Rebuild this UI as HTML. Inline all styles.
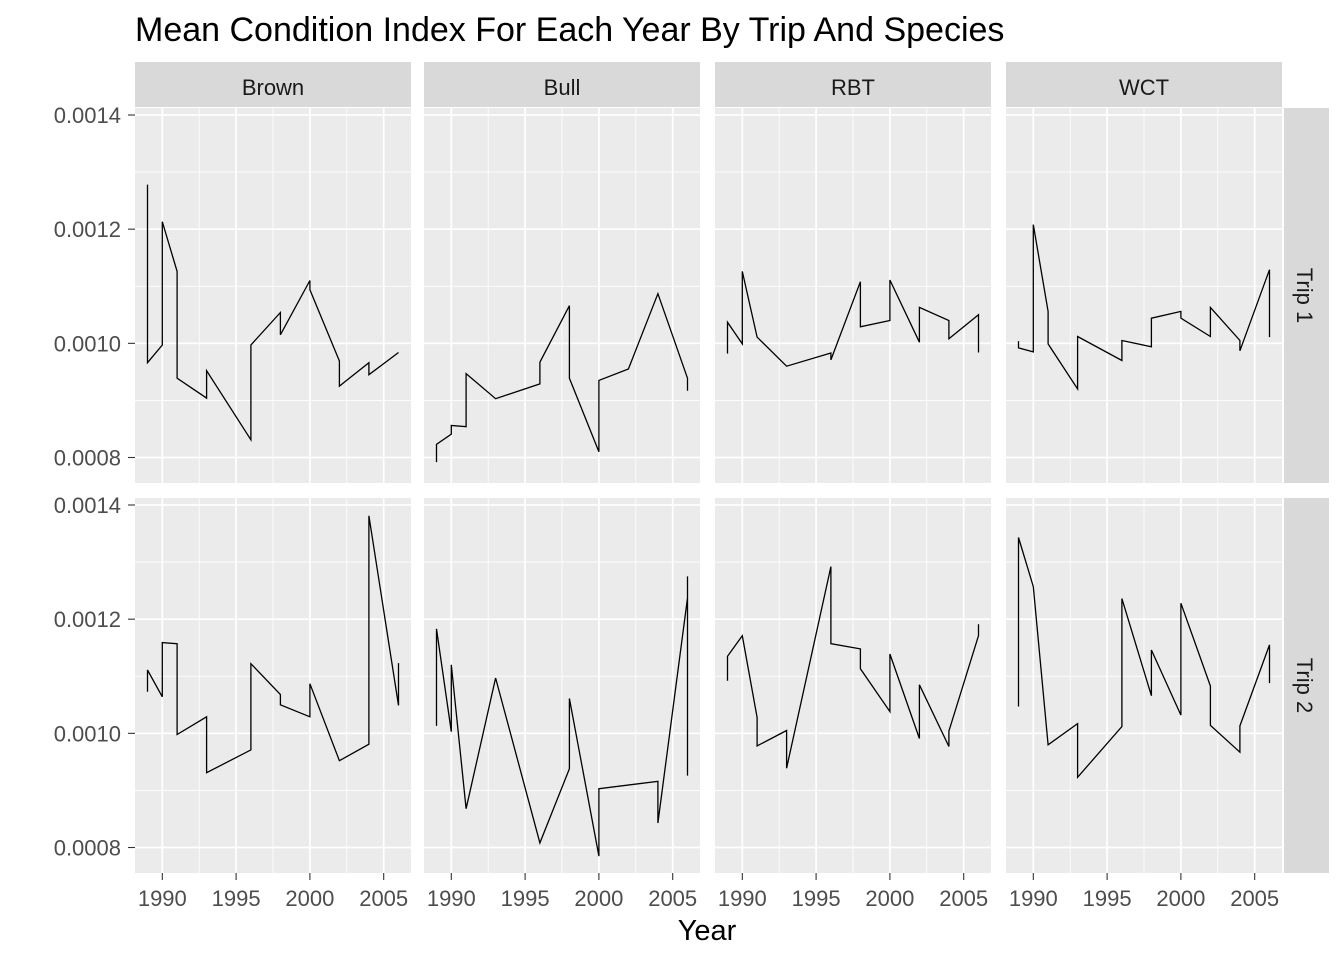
<!DOCTYPE html>
<html><head><meta charset="utf-8"><style>
body{margin:0;background:#fff;}
svg{display:block;font-family:"Liberation Sans",Arial,sans-serif;}
</style></head><body>
<svg id="chart" width="1344" height="960">
<text x="135" y="41" font-size="34" fill="#000">Mean Condition Index For Each Year By Trip And Species</text>
<text x="707" y="940" font-size="29" fill="#000" text-anchor="middle">Year</text>
</svg>
<script>
const species = ["Brown","Bull","RBT","WCT"];
const trips = ["Trip 1","Trip 2"];
const xTicks = [1990,1995,2000,2005];
const yTicks = [0.0008,0.0010,0.0012,0.0014];
const yTickLabels = ["0.0008","0.0010","0.0012","0.0014"];

const brownT1Years = [1989,1989,1990,1990,1991,1991,1993,1993,1996,1996,1998,1998,2000,2000,2002,2002,2004,2004,2006];
const brownT1Vals = [0.001278,0.000966,0.000997,0.001213,0.001126,0.000939,0.000904,0.000952,0.000831,0.000997,0.001054,0.001015,0.001110,0.001094,0.000969,0.000925,0.000966,0.000945,0.000984];
const bullT1Years = [1989,1989,1990,1990,1991,1991,1993,1996,1996,1998,1998,2000,2000,2002,2004,2006,2006];
const bullT1Vals = [0.000792,0.000823,0.000841,0.000856,0.000854,0.000947,0.000903,0.000929,0.000967,0.001066,0.000939,0.000810,0.000935,0.000955,0.001087,0.000939,0.000917];
const rbtT1Years = [1989,1989,1990,1990,1991,1993,1996,1996,1998,1998,2000,2000,2002,2002,2004,2004,2006,2006];
const rbtT1Vals = [0.000982,0.001037,0.000999,0.001126,0.001011,0.000960,0.000983,0.000971,0.001108,0.001029,0.001040,0.001111,0.001002,0.001063,0.001040,0.001008,0.001050,0.000984];
const wctT1Years = [1989,1989,1990,1990,1991,1991,1993,1993,1996,1996,1998,1998,2000,2000,2002,2002,2004,2004,2006,2006];
const wctT1Vals = [0.001004,0.000992,0.000985,0.001208,0.001056,0.000999,0.000920,0.001012,0.000970,0.001005,0.000994,0.001044,0.001056,0.001044,0.001012,0.001063,0.001005,0.000987,0.001129,0.001011];

const brownT2Years = [1989,1989,1990,1990,1991,1991,1993,1993,1996,1996,1998,1998,2000,2000,2002,2004,2004,2006,2006];
const brownT2Vals = [0.001073,0.001111,0.001064,0.001159,0.001157,0.000998,0.001029,0.000931,0.000971,0.001122,0.001068,0.001050,0.001029,0.001087,0.000952,0.000981,0.001381,0.001049,0.001123];
const bullT2Years = [1989,1989,1990,1990,1991,1993,1996,1998,1998,2000,2000,2004,2004,2006,2006,2006];
const bullT2Vals = [0.001013,0.001183,0.001003,0.001120,0.000868,0.001097,0.000808,0.000938,0.001061,0.000785,0.000903,0.000916,0.000843,0.001237,0.001275,0.000926];
const rbtT2Years = [1989,1989,1990,1991,1991,1993,1993,1996,1996,1998,1998,2000,2000,2002,2002,2004,2004,2006,2006];
const rbtT2Vals = [0.001092,0.001135,0.001171,0.001028,0.000978,0.001005,0.000939,0.001292,0.001157,0.001148,0.001113,0.001038,0.001139,0.000991,0.001085,0.000977,0.001004,0.001171,0.001191];
const wctT2Years = [1989,1989,1990,1991,1993,1993,1996,1996,1998,1998,2000,2000,2002,2002,2004,2004,2006,2006];
const wctT2Vals = [0.001047,0.001343,0.001257,0.000980,0.001017,0.000923,0.001012,0.001236,0.001066,0.001146,0.001032,0.001228,0.001083,0.001014,0.000967,0.001013,0.001155,0.001088];

const seriesYears = [[brownT1Years,bullT1Years,rbtT1Years,wctT1Years],[brownT2Years,bullT2Years,rbtT2Years,wctT2Years]];
const seriesVals = [[brownT1Vals,bullT1Vals,rbtT1Vals,wctT1Vals],[brownT2Vals,bullT2Vals,rbtT2Vals,wctT2Vals]];

const NS="http://www.w3.org/2000/svg";
const svg=document.getElementById('chart');
function mk(tag,attrs,parent){const e=document.createElementNS(NS,tag);for(const k in attrs)e.setAttribute(k,attrs[k]);(parent||svg).appendChild(e);return e;}
const panelLefts=[135,424,715,1006], panelW=276;
const panelTops=[108,498], panelH=375;
const xMin=1988.15, xMax=2006.85;
function xScale(col,v){return panelLefts[col]+(v-xMin)/(xMax-xMin)*panelW;}
function yScale(row,v){return panelTops[row]+7+(0.0014-v)/0.0006*342.5;}

for(let c=0;c<4;c++){
  const s=mk('rect',{x:panelLefts[c],y:62,width:panelW,height:45,fill:'#d9d9d9'});
  
  
  const t=mk('text',{x:panelLefts[c]+panelW/2,y:95,'font-size':22,fill:'#1a1a1a','text-anchor':'middle'});
  t.textContent=species[c];
  
  
}
for(let r=0;r<2;r++){
  const s=mk('rect',{x:1284,y:panelTops[r],width:45,height:panelH,fill:'#d9d9d9'});
  
  
  const cx=1297, cy=panelTops[r]+panelH/2;
  const t=mk('text',{x:cx,y:cy,'font-size':22,fill:'#1a1a1a','text-anchor':'middle',transform:`rotate(90 ${cx} ${cy})`});
  t.textContent=trips[r];
  
  
}
for(let r=0;r<2;r++){
  for(const [i,v] of yTicks.entries()){
    const y=yScale(r,v);
    const lab=mk('text',{x:121,y:y+8,'font-size':22,fill:'#4d4d4d','text-anchor':'end'});
    lab.textContent=yTickLabels[i];
    
    
    mk('line',{x1:128,x2:135,y1:y,y2:y,stroke:'#333','stroke-width':1.1});
  }
  for(let c=0;c<4;c++){
    const g=mk('g',{});
    
    
    mk('rect',{x:panelLefts[c],y:panelTops[r],width:panelW,height:panelH,fill:'#ebebeb'},g);
    for(let k=0;k<yTicks.length-1;k++){
      const y=yScale(r,(yTicks[k]+yTicks[k+1])/2);
      mk('line',{x1:panelLefts[c],x2:panelLefts[c]+panelW,y1:y,y2:y,stroke:'#fff','stroke-width':0.8},g);
    }
    for(let k=0;k<xTicks.length+1;k++){
      const v=(k===0?xTicks[0]-2.5:xTicks[k-1]+2.5);
      if(v<xMin||v>xMax) continue;
      const x=xScale(c,v);
      mk('line',{x1:x,x2:x,y1:panelTops[r],y2:panelTops[r]+panelH,stroke:'#fff','stroke-width':0.8},g);
    }
    for(const v of yTicks){const y=yScale(r,v);mk('line',{x1:panelLefts[c],x2:panelLefts[c]+panelW,y1:y,y2:y,stroke:'#fff','stroke-width':1.7},g);}
    for(const v of xTicks){const x=xScale(c,v);mk('line',{x1:x,x2:x,y1:panelTops[r],y2:panelTops[r]+panelH,stroke:'#fff','stroke-width':1.7},g);}
    const yrs=seriesYears[r][c], vals=seriesVals[r][c];
    const pts=yrs.map((yv,i)=>xScale(c,yv).toFixed(1)+','+yScale(r,vals[i]).toFixed(1)).join(' ');
    const pl=mk('polyline',{points:pts,fill:'none',stroke:'#000','stroke-width':1.3},g);
    
    
  }
}
for(let c=0;c<4;c++){
  for(const v of xTicks){
    const x=xScale(c,v);
    mk('line',{x1:x,x2:x,y1:873,y2:880,stroke:'#333','stroke-width':1.1});
    const t=mk('text',{x:x,y:906,'font-size':22,fill:'#4d4d4d','text-anchor':'middle'});
    t.textContent=v;
    
    
  }
}
</script>
</body></html>
